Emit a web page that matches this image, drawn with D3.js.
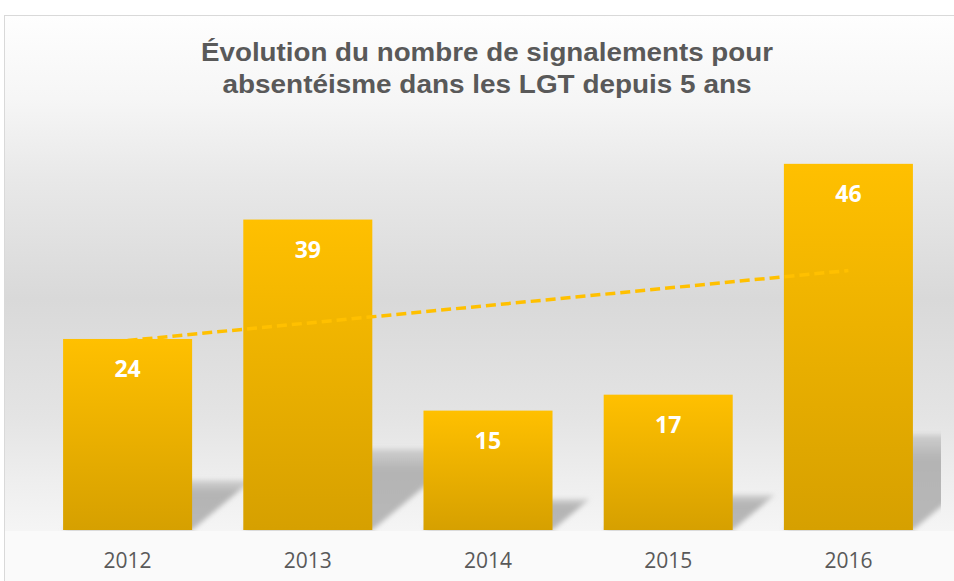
<!DOCTYPE html>
<html>
<head>
<meta charset="utf-8">
<script src="https://cdn.jsdelivr.net/npm/d3@7"></script>
<style>
  body { margin: 0; background: #fff; }
  svg { display: block; }
</style>
</head>
<body>
<div id="chart"></div>
<script>
const years = ['2012', '2013', '2014', '2015', '2016'];
const values = [24, 39, 15, 17, 46];
const titleLines = ['Évolution du nombre de signalements pour',
                    'absentéisme dans les LGT depuis 5 ans'];
const yDomain = [0, 50];

const width = 954;
const height = 581;
const plot = {left: 37.5, right: 938.5, top: 132, bottom: 530};

const svg = d3.select('#chart')
  .append('svg')
  .attr('width', width)
  .attr('height', height);

const defs = svg.append('defs');

// Background gradient of the chart area
const bg = defs.append('linearGradient')
  .attr('id', 'bg')
  .attr('gradientUnits', 'userSpaceOnUse')
  .attr('x1', 0).attr('x2', 0).attr('y1', 16).attr('y2', 531);
[[0, '#fefefe'], [0.16, '#f6f6f6'], [0.32, '#e8e8e8'], [0.55, '#d9d9d9'],
 [0.78, '#e4e4e4'], [0.9, '#eeeeee'], [1, '#f5f5f5']]
  .forEach(([o, c]) => bg.append('stop').attr('offset', o).attr('stop-color', c));

const barGrad = defs.append('linearGradient')
  .attr('id', 'bar')
  .attr('x1', 0).attr('x2', 0).attr('y1', 0).attr('y2', 1);
barGrad.append('stop').attr('offset', 0).attr('stop-color', '#ffc000');
barGrad.append('stop').attr('offset', 1).attr('stop-color', '#d6a000');

const shadeGrad = defs.append('linearGradient')
  .attr('id', 'shade')
  .attr('x1', 0).attr('x2', 0).attr('y1', 0).attr('y2', 1);
shadeGrad.append('stop').attr('offset', 0).attr('stop-color', '#b4b4b4').attr('stop-opacity', 0.5);
shadeGrad.append('stop').attr('offset', 0.25).attr('stop-color', '#b4b4b4').attr('stop-opacity', 1);
shadeGrad.append('stop').attr('offset', 1).attr('stop-color', '#b8b8b8').attr('stop-opacity', 1);

defs.append('filter')
  .attr('id', 'blur')
  .attr('x', '-20%').attr('y', '-20%').attr('width', '140%').attr('height', '140%')
  .append('feGaussianBlur')
  .attr('stdDeviation', 2.5);

defs.append('clipPath')
  .attr('id', 'plotclip')
  .append('rect')
  .attr('x', 5).attr('y', 16)
  .attr('width', 936).attr('height', 515);

// Frame
svg.append('rect')
  .attr('x', 4.5).attr('y', 15.5)
  .attr('width', 960).attr('height', 600)
  .attr('fill', '#fafafa')
  .attr('stroke', '#d9d9d9');
svg.append('rect')
  .attr('x', 5).attr('y', 16)
  .attr('width', 949).attr('height', 515)
  .attr('fill', 'url(#bg)');

const x = d3.scaleBand()
  .domain(years)
  .range([plot.left, plot.right])
  .paddingInner(0.284)
  .paddingOuter(0.142);

const y = d3.scaleLinear()
  .domain(yDomain)
  .range([plot.bottom, plot.top]);

const data = years.map((yr, i) => ({year: yr, value: values[i]}));

// Perspective shadows behind the bars
svg.append('g')
  .attr('clip-path', 'url(#plotclip)')
  .append('g')
  .attr('filter', 'url(#blur)')
  .selectAll('path')
  .data(data)
  .enter().append('path')
  .attr('fill', 'url(#shade)')
  .attr('d', d => {
    const x0 = x(d.year);
    const x1 = x0 + x.bandwidth();
    const sh = (y(0) - y(d.value)) * 0.26;
    const dx = sh * 1.2;
    const b = y(0);
    return `M${x0},${b}L${x1},${b}L${x1 + dx},${b - sh}L${x0 + dx},${b - sh}Z`;
  });

// Bars
svg.append('g')
  .selectAll('rect')
  .data(data)
  .enter().append('rect')
  .attr('x', d => x(d.year))
  .attr('y', d => y(d.value))
  .attr('width', x.bandwidth())
  .attr('height', d => y(0) - y(d.value))
  .attr('fill', 'url(#bar)');

// Linear trend line
const n = values.length;
const mx = d3.mean(d3.range(n));
const my = d3.mean(values);
const slope = d3.sum(values, (v, i) => (i - mx) * (v - my)) /
              d3.sum(d3.range(n), i => (i - mx) * (i - mx));
const trend = [0, n - 1].map(i => [x(years[i]) + x.bandwidth() / 2,
                                   y(my + slope * (i - mx))]);
svg.append('path')
  .attr('d', d3.line()(trend))
  .attr('fill', 'none')
  .attr('stroke', '#ffc000')
  .attr('stroke-width', 3.5)
  .attr('stroke-dasharray', '10,5');

// Value labels
svg.append('g')
  .selectAll('text')
  .data(data)
  .enter().append('text')
  .attr('x', d => x(d.year) + x.bandwidth() / 2)
  .attr('y', d => y(d.value) + 38)
  .attr('text-anchor', 'middle')
  .style('font-family', '"Open Sans", sans-serif')
  .style('font-weight', 'bold')
  .style('font-size', '23px')
  .style('fill', '#ffffff')
  .text(d => d.value);

// Category axis labels
svg.append('g')
  .selectAll('text')
  .data(years)
  .enter().append('text')
  .attr('x', d => x(d) + x.bandwidth() / 2)
  .attr('y', 568)
  .attr('text-anchor', 'middle')
  .style('font-family', '"Open Sans", sans-serif')
  .style('font-size', '21px')
  .style('fill', '#595959')
  .text(d => d);

// Title
const titleWidths = [572, 529];
svg.append('g')
  .selectAll('text')
  .data(titleLines)
  .enter().append('text')
  .attr('x', 487)
  .attr('y', (_, i) => 61 + i * 32)
  .attr('text-anchor', 'middle')
  .attr('textLength', (_, i) => titleWidths[i])
  .attr('lengthAdjust', 'spacingAndGlyphs')
  .style('font-family', '"Liberation Sans", Arial, sans-serif')
  .style('font-weight', 'bold')
  .style('font-size', '25.5px')
  .style('fill', '#595959')
  .text(d => d);
</script>
</body>
</html>
